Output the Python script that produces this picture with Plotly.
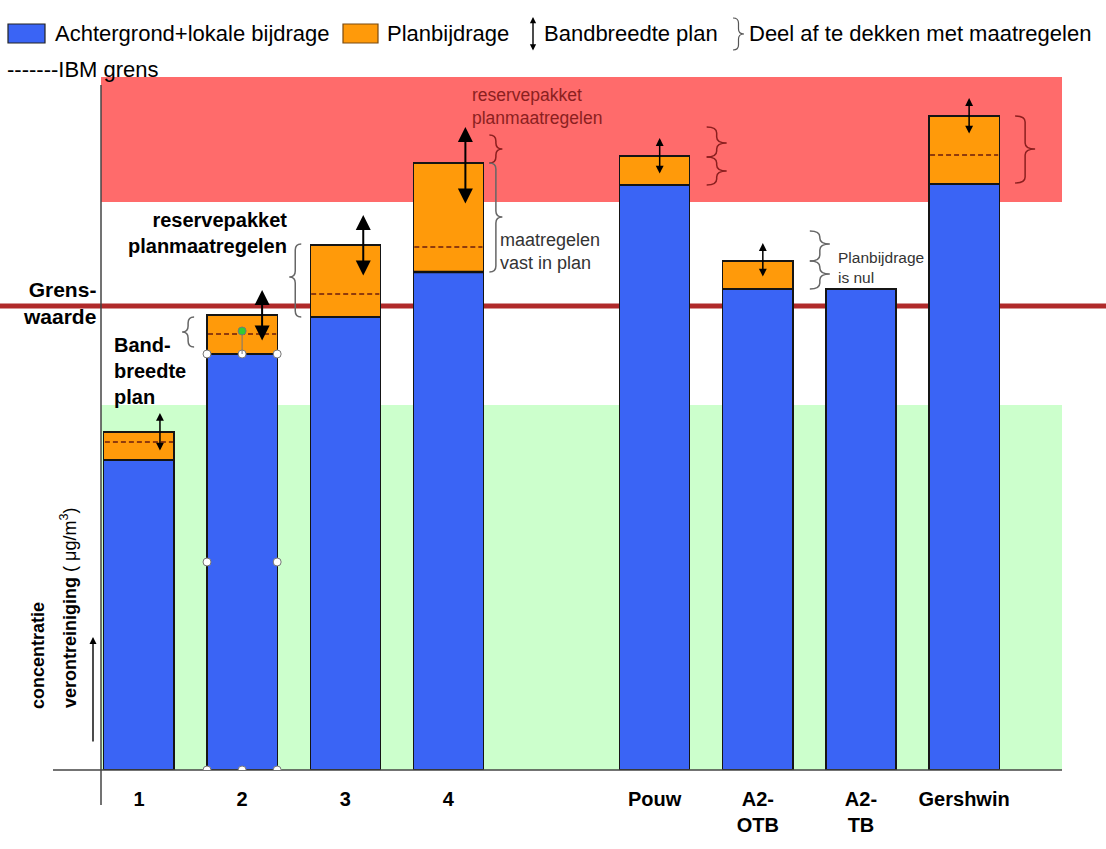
import plotly.graph_objects as go

# ---------------- data ----------------
categories = ["1", "2", "3", "4", " ", "Pouw", "A2-OTB", "A2-TB", "Gershwin"]
tick_labels = ["1", "2", "3", "4", "", "Pouw", "A2-<br>OTB", "A2-<br>TB", "Gershwin"]
achtergrond = [31.0, 41.6, 45.3, 49.8, None, 58.5, 48.1, 48.1, 58.6]
planbijdrage = [2.8, 3.9, 7.2, 10.9, None, 2.9, 2.8, None, 6.8]
ibm_grens = [32.8, 43.6, 47.6, 52.3, None, None, None, None, 61.5]
band_top = [35.7, 48.0, 55.5, 64.3, None, 63.2, 52.7, None, 67.2]
band_bottom = [31.8, 42.8, 49.3, 56.5, None, 59.5, 49.2, None, 63.5]
grenswaarde = 46.4
zone_bounds = [0, 36.5, 56.8, 69.3]

# braces ("deel af te dekken met maatregelen")
brace_cat = ["2", "3", "4", "4", "Pouw", "Pouw", "A2-OTB", "A2-OTB", "Gershwin"]
brace_low = [42.3, 45.3, 60.7, 49.8, 61.3, 58.5, 50.9, 48.1, 58.7]
brace_high = [45.3, 52.6, 63.5, 60.7, 64.3, 61.3, 53.9, 50.9, 65.4]
brace_tip = [43.8, 49.3, 62.1, 55.3, 62.7, 59.9, 52.6, 49.6, 62.1]

# ---------------- styling / layout ----------------
FIG_W, FIG_H = 1106, 849
M_L, M_R, M_T, M_B = 101, 44, 77, 79
PLOT_W = FIG_W - M_L - M_R
PLOT_H = FIG_H - M_T - M_B
X_RANGE = [-0.368, 8.949]
PX_PER_CAT = PLOT_W / (X_RANGE[1] - X_RANGE[0])
BAR_W = 0.68
HALF_PX = BAR_W * PX_PER_CAT / 2

BLUE = "#3a64f5"
ORANGE = "#ff9a0a"
GREEN_ZONE = "#ccffcc"
RED_ZONE = "#ff6b6b"
GRENS_RED = "#b02a2a"
DARK_RED = "#8b1f1f"
GRAY = "#666666"
FONT = "Liberation Sans, Arial, sans-serif"
zone_colors = [GREEN_ZONE, "#ffffff", RED_ZONE]

arrow_shift = [21, 20, 18, 17, 0, 5, 5, 0, 5]
arrow_big = [False, True, True, True, False, False, False, False, False]
brace_base = [-48, -44, 41, 41, 52, 52, 52, 52, 51]
brace_tipx = [-60, -56, 54, 54, 72, 72, 72, 72, 71]
brace_color = [GRAY, GRAY, DARK_RED, GRAY, DARK_RED, DARK_RED, GRAY, GRAY, DARK_RED]


def idx(cat):
    # numeric position of a category on the category axis
    return categories.index(cat)


def px_x(p):
    return (p - M_L) / PLOT_W


def px_y(p):
    return (FIG_H - M_B - p) / PLOT_H


def brace_path(xb, xt, ylo, yhi, ytip, r):
    xm = (xb + xt) / 2
    r1 = min(r, (yhi - ytip) / 2)
    r2 = min(r, (ytip - ylo) / 2)
    return (f"M {xb},{yhi} Q {xm},{yhi} {xm},{yhi - r1} "
            f"L {xm},{ytip + r1} Q {xm},{ytip} {xt},{ytip} "
            f"Q {xm},{ytip} {xm},{ytip - r2} "
            f"L {xm},{ylo + r2} Q {xm},{ylo} {xb},{ylo}")


fig = go.Figure()
fig.add_trace(go.Bar(x=categories, y=achtergrond, name="Achtergrond+lokale bijdrage",
                     width=BAR_W, marker=dict(color=BLUE, line=dict(color="#151515", width=1.2))))
fig.add_trace(go.Bar(x=categories, y=planbijdrage, name="Planbijdrage",
                     width=BAR_W, marker=dict(color=ORANGE, line=dict(color="#151515", width=1.2))))

# background zones
for lo, hi, col in zip(zone_bounds[:-1], zone_bounds[1:], zone_colors):
    fig.add_shape(type="rect", xref="paper", yref="y", x0=0, x1=1, y0=lo, y1=hi,
                  fillcolor=col, line_width=0, layer="below")
# grenswaarde line
fig.add_shape(type="line", xref="paper", yref="y", x0=px_x(0), x1=px_x(FIG_W),
              y0=grenswaarde, y1=grenswaarde, line=dict(color=GRENS_RED, width=5), layer="below")

# axes lines
fig.add_shape(type="line", xref="paper", yref="paper", x0=0, x1=0, y0=px_y(805), y1=px_y(85),
              line=dict(color="#444444", width=1.5))
fig.add_shape(type="line", xref="paper", yref="paper", x0=px_x(53), x1=1, y0=0, y1=0,
              line=dict(color="#444444", width=1.5))

# IBM grens dashed lines
for i, v in enumerate(ibm_grens):
    if v is None:
        continue
    fig.add_shape(type="line", xref="x", xsizemode="pixel", xanchor=i, x0=-HALF_PX + 1, x1=HALF_PX - 1,
                  yref="y", y0=v, y1=v, line=dict(color="#6b1d0e", width=1.3, dash="5px,3px"))

# thick top line of blue part for bar 4
fig.add_shape(type="line", xref="x", xsizemode="pixel", xanchor=idx("4"), x0=-HALF_PX, x1=HALF_PX,
              yref="y", y0=achtergrond[3], y1=achtergrond[3], line=dict(color="#111111", width=2.5))

# braces
for c, lo, hi, tp, xb, xt, col in zip(brace_cat, brace_low, brace_high, brace_tip,
                                      brace_base, brace_tipx, brace_color):
    fig.add_shape(type="path", xref="x", xsizemode="pixel", xanchor=idx(c), yref="y",
                  path=brace_path(xb, xt, lo, hi, tp, 0.6), line=dict(color=col, width=1.5))

# selection handles on bar 2
sel_i = idx("2")
sel_top = achtergrond[sel_i]
for dx, yv in [(-HALF_PX, sel_top), (0, sel_top), (HALF_PX, sel_top),
               (-HALF_PX, sel_top / 2), (HALF_PX, sel_top / 2),
               (-HALF_PX, 0), (0, 0), (HALF_PX, 0)]:
    fig.add_shape(type="circle", xref="x", xsizemode="pixel", xanchor=sel_i, x0=dx - 4, x1=dx + 4,
                  yref="y", ysizemode="pixel", yanchor=yv, y0=-4, y1=4,
                  fillcolor="white", line=dict(color="#777777", width=1))
fig.add_shape(type="line", xref="x", xsizemode="pixel", xanchor=sel_i, x0=0, x1=0,
              yref="y", y0=sel_top, y1=ibm_grens[sel_i] + 0.3, line=dict(color="#777777", width=1))
fig.add_shape(type="circle", xref="x", xsizemode="pixel", xanchor=sel_i, x0=-4, x1=4,
              yref="y", ysizemode="pixel", yanchor=ibm_grens[sel_i] + 0.3, y0=-4, y1=4,
              fillcolor="#33cc33", line=dict(color="#777777", width=1))

# bandbreedte arrows
for i, (t, b, sh, big) in enumerate(zip(band_top, band_bottom, arrow_shift, arrow_big)):
    if t is None:
        continue
    w = 2.0 if big else 1.5
    s = 1.5 if big else 1.05
    fig.add_annotation(x=i, y=t, xref="x", yref="y", ax=0, axref="pixel", ay=b, ayref="y",
                       text="", showarrow=True, arrowhead=2, startarrowhead=2, arrowside="end+start",
                       arrowwidth=w, arrowsize=s, startarrowsize=s, arrowcolor="black",
                       standoff=0, startstandoff=0, xshift=sh)


def ptext(text, x, y, size, xanchor="left", yanchor="middle", color="black", bold=False,
          align="left", angle=0):
    fig.add_annotation(text=text, x=px_x(x), y=px_y(y), xref="paper", yref="paper",
                       xanchor=xanchor, yanchor=yanchor, showarrow=False, align=align,
                       textangle=angle,
                       font=dict(family=FONT, size=size, color=color,
                                 weight="bold" if bold else "normal"))


# legend (manual)
fig.add_shape(type="rect", xref="paper", yref="paper", x0=px_x(8), x1=px_x(45), y0=px_y(43), y1=px_y(24),
              fillcolor=BLUE, line=dict(color="#222222", width=1.2))
ptext("Achtergrond+lokale bijdrage", 53, 34, 22)
fig.add_shape(type="rect", xref="paper", yref="paper", x0=px_x(343), x1=px_x(378), y0=px_y(43), y1=px_y(24),
              fillcolor=ORANGE, line=dict(color="#7a4a10", width=1.2))
ptext("Planbijdrage", 385, 34, 22)
fig.add_annotation(x=px_x(533), y=px_y(17), xref="paper", yref="paper", ax=0, ay=35, text="",
                   showarrow=True, arrowhead=2, startarrowhead=2, arrowside="end+start",
                   arrowwidth=1.4, arrowsize=0.9, startarrowsize=0.9, arrowcolor="black",
                   standoff=0, startstandoff=0)
ptext("Bandbreedte plan", 542, 34, 22)
fig.add_shape(type="path", xref="paper", yref="paper",
              path=brace_path(px_x(733), px_x(744), px_y(50), px_y(18), px_y(34), 5 / PLOT_H),
              line=dict(color="#555555", width=1.2))
ptext("Deel af te dekken met maatregelen", 747, 34, 22)
ptext("-------IBM grens", 5, 69, 22)

# left texts
ptext("Grens-<br>waarde", 98, 303, 21, xanchor="right", bold=True, align="right")
ptext("Band-<br>breedte<br>plan", 112, 371, 20, bold=True)
ptext("concentratie", 38, 656, 18, bold=True, xanchor="center", yanchor="middle", angle=-90)
ptext("<b>verontreiniging</b> ( μg/m<sup>3</sup>)", 68, 608, 18, xanchor="center",
      yanchor="middle", angle=-90)
fig.add_annotation(x=px_x(93), y=px_y(637), xref="paper", yref="paper", ax=0, ay=106, text="",
                   showarrow=True, arrowhead=2, arrowwidth=1.4, arrowsize=1.0, arrowcolor="black",
                   standoff=0)

# bar-related texts
fig.add_annotation(x=idx("3"), y=53.75, xref="x", yref="y", xshift=-56, xanchor="right", yanchor="middle",
                   text="reservepakket<br>planmaatregelen", showarrow=False, align="right",
                   font=dict(family=FONT, size=20, color="black", weight="bold"))
fig.add_annotation(x=idx("4"), y=66.4, xref="x", yref="y", xshift=22, xanchor="left", yanchor="middle",
                   text="reservepakket<br>planmaatregelen", showarrow=False, align="left",
                   font=dict(family=FONT, size=17.5, color=DARK_RED))
fig.add_annotation(x=idx("4"), y=51.9, xref="x", yref="y", xshift=50, xanchor="left", yanchor="middle",
                   text="maatregelen<br>vast in plan", showarrow=False, align="left",
                   font=dict(family=FONT, size=18, color="#333333"))
fig.add_annotation(x=idx("A2-TB"), y=50.3, xref="x", yref="y", xshift=-25, xanchor="left", yanchor="middle",
                   text="Planbijdrage<br>is nul", showarrow=False, align="left",
                   font=dict(family=FONT, size=15.5, color="#333333"))

tick_vals = [c for c, t in zip(categories, tick_labels) if t]
tick_text = [t for t in tick_labels if t]

fig.update_layout(
    width=FIG_W, height=FIG_H, autosize=False,
    margin=dict(l=M_L, r=M_R, t=M_T, b=M_B, pad=0),
    paper_bgcolor="white", plot_bgcolor="white",
    showlegend=False, barmode="stack",
    font=dict(family=FONT, color="black"),
    xaxis=dict(type="category", categoryorder="array", categoryarray=categories,
               range=X_RANGE, tickvals=tick_vals, ticktext=tick_text,
               showgrid=False, zeroline=False, showline=False, ticks="",
               tickfont=dict(family=FONT, size=20, color="black", weight="bold"),
               ticklabelstandoff=15, fixedrange=True),
    yaxis=dict(range=[0, zone_bounds[-1]], visible=False, fixedrange=True),
)

fig.write_html("out.html", config={"displayModeBar": False},
               post_script="document.body.style.margin='0';document.body.style.overflow='hidden';")
